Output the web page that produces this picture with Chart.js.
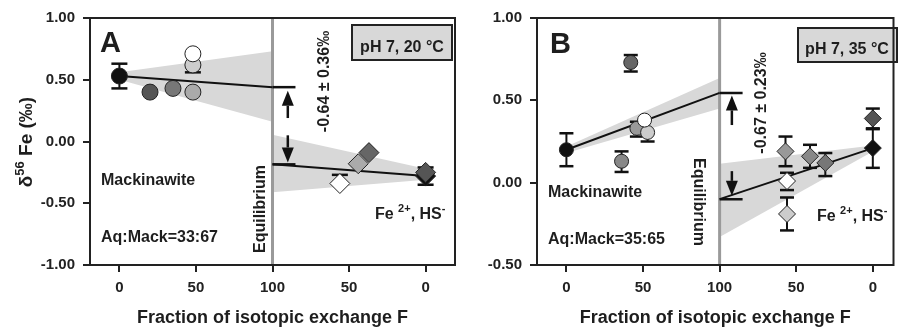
<!DOCTYPE html>
<html>
<head>
<meta charset="utf-8">
<script src="https://cdn.jsdelivr.net/npm/chart.js@4.4.0/dist/chart.umd.min.js"></script>
<style>
  html, body { margin: 0; padding: 0; background: #fff; overflow: hidden; }
  #wrap { position: relative; width: 901px; height: 327px; }
  .panel { position: absolute; top: 0; height: 327px; }
</style>
</head>
<body>
<div id="wrap">
  <div class="panel" style="left:0;width:466px"><canvas id="chartA"></canvas></div>
  <div class="panel" style="left:466px;width:437px"><canvas id="chartB"></canvas></div>
</div>
<script>
// x axis: F of mackinawite runs 0 -> 100 on the left half,
// F of the aqueous Fe runs 100 -> 0 on the right half (plotted at 200 - F)
const xTicks = [0, 50, 100, 150, 200];

// panel A, pH 7, 20 °C
const aYTicks = [-1, -0.5, 0, 0.5, 1];
const aMackF = [0, 20, 35, 48, 48, 48];
const aMackD = [0.53, 0.40, 0.43, 0.40, 0.62, 0.71];
const aMackLo = [0.43, null, null, null, 0.56, null];
const aMackHi = [0.63, null, null, null, null, null];
const aMackCol = ['#111111', '#555555', '#777777', '#aaaaaa', '#cccccc', '#ffffff'];
const aAqF = [0, 0, 56, 37, 44];
const aAqD = [-0.28, -0.25, -0.34, -0.09, -0.18];
const aAqLo = [-0.35, null, null, null, null];
const aAqHi = [-0.21, null, -0.27, null, null];
const aAqCol = ['#111111', '#555555', '#ffffff', '#666666', '#aaaaaa'];
const aMackFitF = [0, 100];
const aMackFit = [0.53, 0.44];
const aMackBandHi = [0.56, 0.73];
const aMackBandLo = [0.50, 0.16];
const aAqFitF = [100, 0];
const aAqFit = [-0.185, -0.28];
const aAqBandHi = [0.055, -0.22];
const aAqBandLo = [-0.41, -0.31];
const aArrowUp = [0.19, 0.41];
const aArrowDown = [0.05, -0.17];

// panel B, pH 7, 35 °C
const bYTicks = [-0.5, 0, 0.5, 1];
const bMackF = [0, 42, 36, 46, 53, 51];
const bMackD = [0.20, 0.73, 0.13, 0.33, 0.305, 0.38];
const bMackLo = [0.10, 0.675, 0.065, 0.28, 0.25, null];
const bMackHi = [0.30, 0.775, 0.19, 0.37, null, null];
const bMackCol = ['#111111', '#666666', '#888888', '#999999', '#cccccc', '#ffffff'];
const bAqF = [0, 0, 57, 56, 56, 41, 31];
const bAqD = [0.21, 0.39, 0.19, 0.01, -0.19, 0.16, 0.12];
const bAqLo = [0.09, 0.33, 0.10, -0.045, -0.29, 0.09, 0.04];
const bAqHi = [0.325, 0.45, 0.28, 0.06, -0.09, 0.23, 0.18];
const bAqCol = ['#111111', '#555555', '#999999', '#ffffff', '#cccccc', '#888888', '#777777'];
const bMackFitF = [0, 100];
const bMackFit = [0.20, 0.545];
const bMackBandHi = [0.22, 0.635];
const bMackBandLo = [0.18, 0.45];
const bAqFitF = [100, 0];
const bAqFit = [-0.10, 0.21];
const bAqBandHi = [0.115, 0.225];
const bAqBandLo = [-0.33, 0.19];
const bArrowUp = [0.35, 0.53];
const bArrowDown = [0.07, -0.08];

const FONT = "'Liberation Sans', Arial, Helvetica, sans-serif";
Chart.defaults.font.family = FONT;
Chart.defaults.color = '#222';

function sideX(f, aq) { return aq ? 200 - f : f; }
function pts(F, D, aq) { return F.map((f, i) => ({ x: sideX(f, aq), y: D[i] })); }

// text made of runs [text, size, dy] so superscripts can be drawn
function drawRuns(ctx, runs, x, y, rot, align) {
  ctx.save();
  ctx.translate(x, y);
  if (rot) ctx.rotate(rot);
  ctx.textBaseline = 'alphabetic';
  ctx.textAlign = 'left';
  ctx.fillStyle = '#1e1e1e';
  let w = 0;
  runs.forEach(r => { ctx.font = 'bold ' + r[1] + 'px ' + FONT; w += ctx.measureText(r[0]).width; });
  let cx = align === 'center' ? -w / 2 : 0;
  runs.forEach(r => {
    ctx.font = 'bold ' + r[1] + 'px ' + FONT;
    ctx.fillText(r[0], cx, r[2] || 0);
    cx += ctx.measureText(r[0]).width;
  });
  ctx.restore();
}

function arrow(ctx, x, y0, y1) {
  const dir = Math.sign(y1 - y0), head = 15, hw = 6;
  ctx.beginPath();
  ctx.moveTo(x, y0);
  ctx.lineTo(x, y1 - dir * head);
  ctx.lineWidth = 2.5;
  ctx.stroke();
  ctx.beginPath();
  ctx.moveTo(x, y1);
  ctx.lineTo(x - hw, y1 - dir * head);
  ctx.lineTo(x + hw, y1 - dir * head);
  ctx.closePath();
  ctx.fill();
}

// error bars go under the markers but over lines and bands
const errorBars = {
  id: 'errorBars',
  beforeDatasetsDraw(chart) { chart.$barsDone = false; },
  beforeDatasetDraw(chart, args) {
    const d = chart.data.datasets[args.index];
    if (!d.isPoints || chart.$barsDone) return;
    chart.$barsDone = true;
    const ctx = chart.ctx, xs = chart.scales.x, ys = chart.scales.y;
    const cw = chart.options.plugins.panel.capW;
    ctx.save();
    ctx.strokeStyle = '#111';
    chart.data.datasets.forEach(ds => {
      if (!ds.isPoints) return;
      ds.data.forEach((p, i) => {
        const px = xs.getPixelForValue(p.x), py = ys.getPixelForValue(p.y);
        [ds.lo[i], ds.hi[i]].forEach(v => {
          if (v == null) return;
          const vy = ys.getPixelForValue(v);
          ctx.lineWidth = 2;
          ctx.beginPath(); ctx.moveTo(px, py); ctx.lineTo(px, vy); ctx.stroke();
          ctx.lineWidth = 2.5;
          ctx.beginPath(); ctx.moveTo(px - cw, vy); ctx.lineTo(px + cw, vy); ctx.stroke();
        });
      });
    });
    ctx.restore();
  }
};

const decor = {
  id: 'decor',
  afterDraw(chart) {
    const p = chart.options.plugins.panel;
    const ctx = chart.ctx, a = chart.chartArea, xs = chart.scales.x, ys = chart.scales.y;
    ctx.save();
    ctx.strokeStyle = '#111';
    ctx.fillStyle = '#111';
    arrow(ctx, xs.getPixelForValue(p.arrowX), ys.getPixelForValue(p.up[0]), ys.getPixelForValue(p.up[1]));
    arrow(ctx, xs.getPixelForValue(p.arrowX), ys.getPixelForValue(p.down[0]), ys.getPixelForValue(p.down[1]));
    // condition box
    ctx.fillStyle = '#d8d8d8';
    ctx.fillRect(p.box[0], p.box[1], p.box[2], p.box[3]);
    ctx.lineWidth = 2;
    ctx.strokeStyle = '#222';
    ctx.strokeRect(p.box[0], p.box[1], p.box[2], p.box[3]);
    // frame
    ctx.strokeRect(a.left, a.top, a.right - a.left, a.bottom - a.top);
    ctx.restore();
    p.texts.forEach(t => drawRuns(ctx, t.runs, t.x, t.y, t.rot || 0, t.align));
    drawRuns(ctx, [['Fraction of isotopic exchange F', 18]], (a.left + a.right) / 2, 323, 0, 'center');
  }
};

function makePanel(id, p) {
  const band = { type: 'line', borderColor: 'rgba(0,0,0,0)', borderWidth: 0, pointRadius: 0, order: 3 };
  const fit = { type: 'line', borderColor: '#111', borderWidth: 2, pointRadius: 0, order: 1 };
  const datasets = [
    { data: pts(p.mackF, p.mackD, false), backgroundColor: p.mackCol, borderColor: '#222', borderWidth: 1,
      pointStyle: 'circle', pointRadius: p.circR, order: 0, isPoints: true, lo: p.mackLo, hi: p.mackHi },
    { data: pts(p.aqF, p.aqD, true), backgroundColor: p.aqCol, borderColor: '#222', borderWidth: 1,
      pointStyle: 'rectRot', pointRadius: p.diaR, order: 0, isPoints: true, lo: p.aqLo, hi: p.aqHi },
    Object.assign({}, fit, { data: pts(p.mackFitF, p.mackFit, false) }),
    Object.assign({}, fit, { data: pts(p.aqFitF, p.aqFit, true) }),
    Object.assign({}, fit, { borderWidth: 2.5, data: [{ x: 100, y: p.mackFit[1] }, { x: 115, y: p.mackFit[1] }] }),
    Object.assign({}, fit, { borderWidth: 2.5, data: [{ x: 100, y: p.aqFit[0] }, { x: 115, y: p.aqFit[0] }] }),
    { type: 'line', data: [{ x: 100, y: p.yTicks[0] }, { x: 100, y: p.yTicks[p.yTicks.length - 1] }],
      borderColor: '#9a9a9a', borderWidth: 3, pointRadius: 0, order: 2 },
    Object.assign({}, band, { data: pts(p.mackFitF, p.mackBandHi, false), fill: false }),
    Object.assign({}, band, { data: pts(p.mackFitF, p.mackBandLo, false), fill: '-1', backgroundColor: '#d8d8d8' }),
    Object.assign({}, band, { data: pts(p.aqFitF, p.aqBandHi, true), fill: false }),
    Object.assign({}, band, { data: pts(p.aqFitF, p.aqBandLo, true), fill: '-1', backgroundColor: '#d8d8d8' })
  ];
  const tickFont = { size: 15, weight: 'bold' };
  const grid = { drawOnChartArea: false, tickLength: 7, lineWidth: 2, color: '#222' };
  return new Chart(document.getElementById(id), {
    type: 'scatter',
    data: { datasets },
    plugins: [errorBars, decor],
    options: {
      responsive: true,
      maintainAspectRatio: false,
      animation: false,
      events: [],
      layout: { padding: { top: 18, right: p.padR, left: 0, bottom: 0 } },
      plugins: { legend: { display: false }, tooltip: { enabled: false }, panel: p },
      scales: {
        x: {
          type: 'linear', min: p.xMin, max: p.xMax,
          afterBuildTicks: s => { s.ticks = xTicks.map(v => ({ value: v })); },
          afterFit: s => { s.height = 62; },
          ticks: { callback: v => (v <= 100 ? v : 200 - v), font: tickFont, color: '#222', padding: 7, maxRotation: 0, autoSkip: false },
          grid, border: { display: false }
        },
        y: {
          min: p.yTicks[0], max: p.yTicks[p.yTicks.length - 1],
          afterBuildTicks: s => { s.ticks = p.yTicks.map(v => ({ value: v })); },
          afterFit: s => { s.width = p.yWidth; },
          ticks: { callback: v => v.toFixed(2), font: tickFont, color: '#222', padding: 8 },
          grid, border: { display: false }
        }
      }
    }
  });
}

makePanel('chartA', {
  yTicks: aYTicks, xMin: -19.2, xMax: 219.2, yWidth: 90, padR: 4, circR: 8, diaR: 10, capW: 8,
  mackF: aMackF, mackD: aMackD, mackLo: aMackLo, mackHi: aMackHi, mackCol: aMackCol,
  aqF: aAqF, aqD: aAqD, aqLo: aAqLo, aqHi: aAqHi, aqCol: aAqCol,
  mackFitF: aMackFitF, mackFit: aMackFit, mackBandHi: aMackBandHi, mackBandLo: aMackBandLo,
  aqFitF: aAqFitF, aqFit: aAqFit, aqBandHi: aAqBandHi, aqBandLo: aAqBandLo,
  arrowX: 110, up: aArrowUp, down: aArrowDown,
  box: [352, 25, 100, 35],
  texts: [
    { runs: [['A', 29]], x: 100, y: 52 },
    { runs: [['Mackinawite', 16]], x: 101, y: 185 },
    { runs: [['Aq:Mack=33:67', 16]], x: 101, y: 241.5 },
    { runs: [['Fe ', 16], ['2+', 11, -7], [', HS', 16], ['-', 11, -7]], x: 375, y: 219 },
    { runs: [['pH 7, 20 °C', 16]], x: 402, y: 51.5, align: 'center' },
    { runs: [['-0.64 ± 0.36‰', 16]], x: 329, y: 81.5, rot: -Math.PI / 2, align: 'center' },
    { runs: [['Equilibrium', 16]], x: 265, y: 209, rot: -Math.PI / 2, align: 'center' },
    { runs: [['δ', 19], ['56', 13, -8], [' Fe (‰)', 19]], x: 32, y: 142, rot: -Math.PI / 2, align: 'center' }
  ]
});

makePanel('chartB', {
  yTicks: bYTicks, xMin: -19.2, xMax: 213.5, yWidth: 71, padR: 3, circR: 7, diaR: 8.5, capW: 7,
  mackF: bMackF, mackD: bMackD, mackLo: bMackLo, mackHi: bMackHi, mackCol: bMackCol,
  aqF: bAqF, aqD: bAqD, aqLo: bAqLo, aqHi: bAqHi, aqCol: bAqCol,
  mackFitF: bMackFitF, mackFit: bMackFit, mackBandHi: bMackBandHi, mackBandLo: bMackBandLo,
  aqFitF: bAqFitF, aqFit: bAqFit, aqBandHi: bAqBandHi, aqBandLo: bAqBandLo,
  arrowX: 108, up: bArrowUp, down: bArrowDown,
  box: [332, 28, 99, 34],
  texts: [
    { runs: [['B', 29]], x: 84, y: 53 },
    { runs: [['Mackinawite', 16]], x: 82, y: 196.5 },
    { runs: [['Aq:Mack=35:65', 16]], x: 82, y: 244 },
    { runs: [['Fe ', 16], ['2+', 11, -7], [', HS', 16], ['-', 11, -7]], x: 351, y: 221 },
    { runs: [['pH 7, 35 °C', 16]], x: 381, y: 53.5, align: 'center' },
    { runs: [['-0.67 ± 0.23‰', 16]], x: 300, y: 103, rot: -Math.PI / 2, align: 'center' },
    { runs: [['Equilibrium', 16]], x: 228, y: 202, rot: Math.PI / 2, align: 'center' }
  ]
});
</script>
</body>
</html>
